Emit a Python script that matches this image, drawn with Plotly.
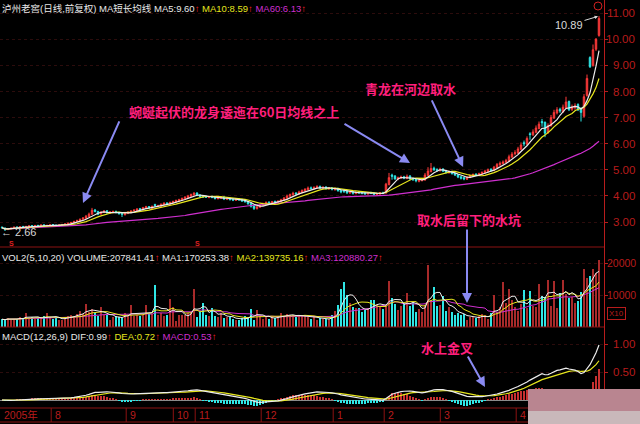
import plotly.graph_objects as go
import pandas as pd

# ---------------- data ----------------
opens = [
    2.80, 2.77, 2.71, 2.74, 2.77, 2.81, 2.79, 2.83, 2.80, 2.82,
    2.86, 2.83, 2.87, 2.85, 2.89, 2.85, 2.86, 2.90, 2.88, 2.85,
    2.87, 2.91, 2.90, 2.96, 2.97, 3.03, 3.04, 3.11, 3.14, 3.21,
    3.30, 3.46, 3.40, 3.31, 3.37, 3.43, 3.34, 3.37, 3.41, 3.37,
    3.33, 3.28, 3.33, 3.37, 3.43, 3.44, 3.51, 3.47, 3.54, 3.59,
    3.53, 3.67, 3.61, 3.61, 3.67, 3.73, 3.69, 3.74, 3.77, 3.81,
    3.84, 3.89, 3.94, 3.99, 4.04, 4.11, 4.03, 3.99, 3.97, 3.94,
    3.98, 3.95, 3.89, 3.91, 3.96, 3.87, 3.91, 3.87, 3.83, 3.89,
    3.86, 3.81, 3.79, 3.71, 3.62, 3.51, 3.57, 3.64, 3.69, 3.76,
    3.71, 3.79, 3.75, 3.79, 3.84, 3.91, 3.99, 4.04, 4.11, 4.07,
    4.14, 4.19, 4.24, 4.31, 4.27, 4.31, 4.36, 4.29, 4.34, 4.27,
    4.31, 4.24, 4.29, 4.21, 4.20, 4.19, 4.11, 4.16, 4.09, 4.15,
    4.13, 4.11, 4.07, 4.13, 4.11, 4.05, 4.07, 4.13, 4.11, 4.44,
    4.80, 4.76, 4.64, 4.69, 4.73, 4.67, 4.76, 4.66, 4.63, 4.56,
    4.59, 4.61, 4.79, 4.93, 5.06, 5.01, 4.97, 5.03, 4.96, 4.89,
    4.93, 4.86, 4.81, 4.73, 4.70, 4.64, 4.71, 4.77, 4.83, 4.79,
    4.84, 4.89, 4.94, 5.02, 4.97, 5.09, 5.19, 5.24, 5.29, 5.34,
    5.49, 5.62, 5.64, 5.79, 6.04, 5.98, 6.38, 6.34, 6.44, 6.58,
    6.85, 6.82, 6.42, 6.69, 6.98, 7.18, 7.32, 7.22, 7.38, 7.62,
    7.32, 7.38, 7.50, 7.35, 7.05, 7.85, 9.30, 9.00, 9.62, 10.15,
]
closes = [
    2.78, 2.70, 2.74, 2.76, 2.80, 2.78, 2.82, 2.80, 2.83, 2.85,
    2.84, 2.86, 2.85, 2.88, 2.86, 2.87, 2.89, 2.88, 2.86, 2.88,
    2.90, 2.92, 2.95, 2.98, 3.02, 3.05, 3.10, 3.15, 3.22, 3.30,
    3.45, 3.40, 3.30, 3.38, 3.42, 3.35, 3.38, 3.40, 3.36, 3.32,
    3.30, 3.34, 3.38, 3.42, 3.45, 3.50, 3.48, 3.55, 3.58, 3.54,
    3.60, 3.63, 3.62, 3.68, 3.72, 3.70, 3.75, 3.78, 3.82, 3.85,
    3.90, 3.95, 4.00, 4.05, 4.10, 4.02, 3.98, 3.96, 3.95, 3.97,
    3.94, 3.90, 3.92, 3.95, 3.88, 3.90, 3.86, 3.84, 3.88, 3.85,
    3.80, 3.78, 3.70, 3.60, 3.52, 3.58, 3.65, 3.70, 3.75, 3.72,
    3.78, 3.76, 3.80, 3.85, 3.92, 4.00, 4.05, 4.10, 4.08, 4.15,
    4.20, 4.25, 4.30, 4.28, 4.32, 4.35, 4.30, 4.33, 4.28, 4.30,
    4.25, 4.28, 4.20, 4.15, 4.18, 4.12, 4.15, 4.10, 4.14, 4.12,
    4.10, 4.08, 4.12, 4.10, 4.06, 4.08, 4.12, 4.10, 4.45, 4.70,
    4.75, 4.65, 4.70, 4.72, 4.68, 4.75, 4.65, 4.62, 4.58, 4.60,
    4.62, 4.80, 4.95, 5.05, 5.00, 4.98, 5.02, 4.95, 4.90, 4.92,
    4.85, 4.80, 4.72, 4.68, 4.65, 4.72, 4.78, 4.82, 4.80, 4.85,
    4.90, 4.95, 5.00, 4.98, 5.10, 5.20, 5.25, 5.30, 5.35, 5.50,
    5.60, 5.65, 5.80, 5.95, 6.00, 6.20, 6.35, 6.45, 6.60, 6.75,
    6.80, 6.40, 6.70, 7.00, 7.20, 7.30, 7.25, 7.40, 7.60, 7.30,
    7.40, 7.45, 7.30, 7.20, 7.80, 8.50, 8.95, 9.60, 10.00, 10.80,
]
highs = [
    2.83, 2.79, 2.76, 2.79, 2.82, 2.83, 2.84, 2.85, 2.85, 2.88,
    2.88, 2.89, 2.89, 2.91, 2.91, 2.89, 2.92, 2.92, 2.90, 2.91,
    2.93, 2.95, 2.98, 3.01, 3.05, 3.09, 3.14, 3.19, 3.27, 3.36,
    3.54, 3.50, 3.43, 3.41, 3.46, 3.45, 3.42, 3.44, 3.43, 3.39,
    3.36, 3.37, 3.41, 3.45, 3.49, 3.53, 3.54, 3.58, 3.62, 3.61,
    3.63, 3.70, 3.66, 3.71, 3.76, 3.75, 3.78, 3.82, 3.86, 3.89,
    3.94, 3.99, 4.04, 4.09, 4.15, 4.14, 4.06, 4.02, 4.00, 4.01,
    4.01, 3.98, 3.95, 3.98, 3.98, 3.93, 3.94, 3.90, 3.91, 3.91,
    3.89, 3.84, 3.81, 3.74, 3.64, 3.62, 3.68, 3.74, 3.79, 3.79,
    3.81, 3.82, 3.83, 3.89, 3.96, 4.05, 4.09, 4.16, 4.14, 4.20,
    4.25, 4.30, 4.36, 4.36, 4.37, 4.41, 4.40, 4.37, 4.37, 4.34,
    4.34, 4.32, 4.31, 4.24, 4.22, 4.22, 4.18, 4.19, 4.17, 4.18,
    4.16, 4.14, 4.15, 4.16, 4.14, 4.11, 4.15, 4.16, 4.50, 4.88,
    4.85, 4.80, 4.74, 4.78, 4.77, 4.82, 4.80, 4.70, 4.67, 4.64,
    4.66, 4.88, 5.10, 5.26, 5.12, 5.06, 5.08, 5.06, 4.99, 4.97,
    4.96, 4.89, 4.84, 4.76, 4.73, 4.76, 4.82, 4.86, 4.87, 4.89,
    4.94, 5.00, 5.05, 5.06, 5.15, 5.26, 5.32, 5.36, 5.42, 5.58,
    5.68, 5.75, 5.88, 6.05, 6.12, 6.28, 6.44, 6.55, 6.70, 6.85,
    6.95, 6.85, 6.78, 7.10, 7.30, 7.40, 7.38, 7.50, 7.80, 7.65,
    7.50, 7.55, 7.55, 7.40, 7.90, 8.65, 9.35, 9.80, 10.05, 10.89,
]
lows = [
    2.75, 2.66, 2.69, 2.72, 2.75, 2.76, 2.77, 2.78, 2.78, 2.80,
    2.82, 2.81, 2.83, 2.83, 2.84, 2.83, 2.84, 2.86, 2.84, 2.83,
    2.85, 2.88, 2.88, 2.93, 2.95, 3.00, 3.02, 3.08, 3.12, 3.18,
    3.27, 3.37, 3.26, 3.28, 3.34, 3.32, 3.31, 3.34, 3.33, 3.28,
    3.19, 3.25, 3.30, 3.34, 3.40, 3.41, 3.45, 3.44, 3.51, 3.51,
    3.50, 3.58, 3.58, 3.58, 3.64, 3.67, 3.66, 3.71, 3.74, 3.78,
    3.81, 3.86, 3.91, 3.96, 4.01, 3.99, 3.95, 3.93, 3.92, 3.91,
    3.91, 3.86, 3.87, 3.89, 3.84, 3.84, 3.82, 3.80, 3.81, 3.82,
    3.77, 3.74, 3.66, 3.55, 3.46, 3.48, 3.54, 3.61, 3.66, 3.68,
    3.68, 3.73, 3.72, 3.76, 3.81, 3.88, 3.96, 4.01, 4.04, 4.04,
    4.10, 4.16, 4.21, 4.25, 4.24, 4.28, 4.27, 4.26, 4.24, 4.23,
    4.21, 4.20, 4.16, 4.10, 4.11, 4.07, 4.08, 4.05, 4.06, 4.08,
    4.06, 4.04, 4.05, 4.07, 4.02, 4.02, 4.04, 4.07, 4.09, 4.40,
    4.62, 4.62, 4.60, 4.65, 4.64, 4.64, 4.62, 4.58, 4.52, 4.52,
    4.55, 4.58, 4.75, 4.90, 4.96, 4.93, 4.93, 4.91, 4.86, 4.85,
    4.82, 4.76, 4.68, 4.63, 4.60, 4.61, 4.68, 4.74, 4.76, 4.76,
    4.81, 4.86, 4.91, 4.94, 4.95, 5.06, 5.15, 5.20, 5.25, 5.30,
    5.45, 5.55, 5.60, 5.75, 5.90, 5.95, 6.15, 6.30, 6.40, 6.55,
    6.65, 6.25, 6.38, 6.65, 6.95, 7.12, 7.18, 7.18, 7.35, 7.25,
    7.25, 7.30, 7.25, 6.85, 7.00, 7.80, 8.90, 8.95, 9.55, 10.10,
]
volumes = [  # shown in units of x10 hands
    2400, 2200, 2800, 2300, 2600, 2500, 3000, 2700, 4400, 2900,
    3100, 2600, 2800, 2800, 3300, 4400, 3000, 2600, 2900, 2200,
    2300, 3100, 3300, 3800, 3500, 4000, 4900, 4200, 7200, 4600,
    5600, 4300, 3500, 6300, 3600, 3800, 2200, 3000, 3400, 3200,
    2900, 4300, 3500, 6800, 3300, 3900, 3400, 3700, 7000, 4100,
    4200, 13000, 3600, 4300, 3500, 3800, 8700, 6300, 2000, 3600,
    3800, 3700, 4300, 4800, 11800, 3200, 4600, 7500, 3900, 3400,
    6000, 3500, 3200, 4300, 2900, 3200, 3000, 2600, 2100, 2200,
    2800, 3300, 3100, 5500, 2200, 5200, 3400, 2500, 3200, 2500,
    3000, 2800, 3400, 4300, 3300, 4000, 3600, 3800, 3200, 3500,
    3600, 3800, 3200, 2600, 3400, 2200, 2800, 2500, 2600, 2400,
    3800, 5000, 7000, 11800, 14000, 10000, 7500, 6300, 5800, 5800,
    4800, 5200, 6000, 8400, 8400, 7000, 6300, 5500, 6800, 14500,
    9000, 7200, 5300, 6500, 7400, 10700, 6500, 7400, 4800, 5600,
    4800, 7000, 19500, 8500, 12500, 6500, 7000, 9700, 5000, 6300,
    4800, 3800, 4300, 3600, 4000, 2200, 3200, 3200, 2800, 3300,
    4000, 3600, 2500, 4500, 10000, 4800, 6200, 14000, 7500, 11800,
    8500, 6300, 5000, 7200, 11700, 5800, 11200, 6500, 6200, 13500,
    9700, 9300, 14600, 6500, 14300, 5800, 10600, 14600, 10300, 9000,
    9300, 7400, 8000, 11000, 18000, 15300, 15800, 18000, 17000, 20784,
]
# month boundaries (bar index) and labels of the date strip
month_starts = [0, 17, 42, 57.7, 65, 87, 111, 128, 146.7, 172]
month_labels = ["2005年", "8", "9", "10", "11", "12", "1", "2", "3", "4"]
price_ticks = [3, 4, 5, 6, 7, 8, 9, 10, 11]
vol_ticks = [10000, 20000]
macd_ticks = [0.5, 1.0]
s_marks = [3, 65]

header_price = ("泸州老窖(日线,前复权) MA短长均线 MA5:9.60", "MA10:8.59", "MA60:6.13")
header_vol = ("VOL2(5,10,20) VOLUME:207841.41", "MA1:170253.38", "MA2:139735.16", "MA3:120880.27")
header_macd = ("MACD(12,26,9) DIF:0.99", "DEA:0.72", "MACD:0.53")

# ---------------- derived indicators ----------------
x = list(range(len(closes)))
c = pd.Series(closes)
ma5 = c.rolling(5, min_periods=1).mean()
ma10 = c.rolling(10, min_periods=1).mean()
ma60 = c.rolling(60, min_periods=1).mean()
v = pd.Series(volumes, dtype=float)
vma5 = v.rolling(5, min_periods=1).mean()
vma10 = v.rolling(10, min_periods=1).mean()
vma20 = v.rolling(20, min_periods=1).mean()
ema12 = c.ewm(span=12, adjust=False).mean()
ema26 = c.ewm(span=26, adjust=False).mean()
dif = ema12 - ema26
dea = dif.ewm(span=9, adjust=False).mean()
macd = 2 * (dif - dea)

RED = "#ff3a3a"
RED_FILL = "#c22c2c"
CYAN = "#2fe6e6"
WHITE = "#ececec"
YELLOW = "#e6e61e"
MAG = "#cf2fcf"
AXRED = "#b81c1c"

up = [cl >= op for op, cl in zip(opens, closes)]
vol_colors = ["#a82a2a" if u else CYAN for u in up]
macd_colors = ["#c83030" if m >= 0 else CYAN for m in macd]

fig = go.Figure()
fig.add_trace(go.Candlestick(
    x=x, open=opens, high=highs, low=lows, close=closes, yaxis="y",
    increasing=dict(line=dict(color=RED, width=1), fillcolor=RED_FILL),
    decreasing=dict(line=dict(color=CYAN, width=1), fillcolor=CYAN),
    whiskerwidth=0, hoverinfo="skip", showlegend=False))
for ser, col in ((ma60, MAG), (ma10, YELLOW), (ma5, WHITE)):
    fig.add_trace(go.Scatter(x=x, y=ser, mode="lines", yaxis="y",
                             line=dict(color=col, width=1.2), hoverinfo="skip", showlegend=False))

fig.add_trace(go.Bar(x=x, y=volumes, yaxis="y2", width=0.72,
                     marker=dict(color=vol_colors, line=dict(width=0)),
                     hoverinfo="skip", showlegend=False))
for ser, col in ((vma20, MAG), (vma10, YELLOW), (vma5, WHITE)):
    fig.add_trace(go.Scatter(x=x, y=ser, mode="lines", yaxis="y2",
                             line=dict(color=col, width=1), hoverinfo="skip", showlegend=False))

fig.add_trace(go.Bar(x=x, y=macd, yaxis="y3", width=0.3,
                     marker=dict(color=macd_colors, line=dict(width=0)),
                     hoverinfo="skip", showlegend=False))
fig.add_trace(go.Scatter(x=x, y=dea, mode="lines", yaxis="y3",
                         line=dict(color=YELLOW, width=1.2), hoverinfo="skip", showlegend=False))
fig.add_trace(go.Scatter(x=x, y=dif, mode="lines", yaxis="y3",
                         line=dict(color=WHITE, width=1.2), hoverinfo="skip", showlegend=False))

H = 408.0  # plot-area height in px
W = 604.0  # plot-area width in px


def py(px):
    return 1 - px / H


axis_common = dict(side="right", anchor="x", showline=True, linecolor=AXRED, linewidth=1,
                   ticks="outside", ticklen=3, tickcolor=AXRED, showticklabels=False,
                   showgrid=True, gridcolor="#2c0c0c", griddash="dot", gridwidth=1,
                   zeroline=False, fixedrange=True)

fig.update_layout(
    width=640, height=424,
    margin=dict(l=0, r=36, t=0, b=16),
    paper_bgcolor="#000000", plot_bgcolor="#000000",
    bargap=0, showlegend=False,
    xaxis=dict(range=[-0.667, 200.667], showticklabels=False, showgrid=False, zeroline=False,
               showline=False, ticks="", rangeslider=dict(visible=False), fixedrange=True,
               anchor="y3"),
    yaxis=dict(domain=[py(247), 1], range=[2.042, 11.506], tickvals=price_ticks, **axis_common),
    yaxis2=dict(domain=[py(327), py(247)], range=[0, 25000], tickvals=vol_ticks, **axis_common),
    yaxis3=dict(domain=[0, py(327)], range=[-0.143, 1.304], tickvals=macd_ticks,
                **{**axis_common, "zeroline": True, "zerolinecolor": "#8a8a8a", "zerolinewidth": 1}),
)

# right-hand tick labels (right aligned just inside the page edge)
tfont = dict(family="Liberation Sans, Arial", size=11.5, color=AXRED)
for t in price_ticks:
    fig.add_annotation(xref="paper", yref="y", x=637 / W, y=t, xanchor="right", yanchor="middle",
                       text=f"{t:.2f}", showarrow=False, font=tfont)
for t in vol_ticks:
    fig.add_annotation(xref="paper", yref="y2", x=638 / W, y=t, xanchor="right", yanchor="middle",
                       text=str(t), showarrow=False,
                       font=dict(family="Liberation Sans, Arial", size=10.5, color=AXRED))
for t in macd_ticks:
    fig.add_annotation(xref="paper", yref="y3", x=637 / W, y=t, xanchor="right", yanchor="middle",
                       text=f"{t:.2f}", showarrow=False, font=tfont)

ARROW = "<span style='color:#ff2020'>↑</span>"
hfont = dict(family="Liberation Sans, Noto Sans CJK SC", size=9.5, color=WHITE)


def header(parts, colors, ypx):
    txt = " ".join(f"<span style='color:{col}'>{p}</span>{ARROW}" for p, col in zip(parts, colors))
    fig.add_annotation(xref="paper", yref="paper", x=0.0, y=py(ypx), xanchor="left", yanchor="middle",
                       text=txt, showarrow=False, font=hfont)


header(header_price, ["#e8e8e8", YELLOW, MAG], 8)
header(header_vol, ["#e8e8e8", "#e8e8e8", YELLOW, MAG], 257)
header(header_macd, ["#e8e8e8", YELLOW, MAG], 336)

# panel separators and date strip
for ypx in (247, 327, 408, 422):
    fig.add_shape(type="line", xref="paper", yref="paper", x0=0, x1=1, y0=py(ypx), y1=py(ypx),
                  line=dict(color="#8c1212", width=1))
for pos, lab in zip(month_starts, month_labels):
    if pos > 0:
        fig.add_shape(type="line", xref="x", yref="paper", x0=pos - 0.6, x1=pos - 0.6,
                      y0=py(408), y1=py(422), line=dict(color="#8c1212", width=1))
    fig.add_annotation(xref="x", yref="paper", x=pos, y=py(415), xanchor="left", yanchor="middle",
                       text=lab, showarrow=False,
                       font=dict(family="Liberation Sans, Noto Sans CJK SC", size=10.5, color=AXRED))

# S markers
for s in s_marks:
    fig.add_annotation(xref="x", yref="paper", x=s, y=py(243.5), text="<b>S</b>", showarrow=False,
                       font=dict(family="Liberation Sans", size=7, color="#e02020"), borderpad=0)

# extreme value labels
fig.add_annotation(xref="x", yref="y", x=199, y=highs[-1], text="10.89", showarrow=True,
                   ax=-30, ay=9, arrowhead=2, arrowsize=0.7, arrowwidth=1, arrowcolor="#d8d8d8",
                   standoff=1, font=dict(family="Liberation Sans", size=11, color="#d8d8d8"))
fig.add_annotation(xref="paper", yref="paper", x=0.0, y=py(231.5), xanchor="left", yanchor="middle",
                   text="← 2.66", showarrow=False, borderpad=0,
                   font=dict(family="Liberation Sans", size=11, color="#d8d8d8"))

# X10 box
fig.add_annotation(xref="paper", yref="paper", x=607 / W, y=py(320), xanchor="left", text="X10",
                   showarrow=False, font=dict(family="Liberation Sans", size=8, color=AXRED),
                   bordercolor=AXRED, borderwidth=1, borderpad=1)

# small icon top right
fig.add_shape(type="circle", xref="paper", yref="paper", x0=594 / W, x1=602 / W,
              y0=py(10), y1=py(2), line=dict(color="#d02020", width=1))

# commentary
PINK = "#ff1f7c"
cfont = dict(family="Noto Sans CJK SC", size=13, color=PINK)
fig.add_annotation(xref="x", yref="y", x=77.3, y=7.25, text="<b>蜿蜒起伏的龙身逶迤在60日均线之上</b>",
                   showarrow=False, font=cfont)
fig.add_annotation(xref="x", yref="y", x=136, y=8.1, text="<b>青龙在河边取水</b>", showarrow=False, font=cfont)
fig.add_annotation(xref="x", yref="y", x=155.7, y=3.11, text="<b>取水后留下的水坑</b>", showarrow=False, font=cfont)
fig.add_annotation(xref="x", yref="y3", x=148.3, y=0.946, text="<b>水上金叉</b>", showarrow=False, font=cfont)

ARR = "#8a8af2"
for (ax_i, ax_y, yref, dx, dy) in [(27, 3.73, "y", 37, -83), (136, 5.26, "y", -67, -40),
                                   (153.7, 5.11, "y", -32, -68), (155, 7500, "y2", 0, -75),
                                   (161, 0.232, "y3", -18, -32)]:
    fig.add_annotation(xref="x", yref=yref, x=ax_i, y=ax_y, text="", showarrow=True, ax=dx, ay=dy,
                       arrowhead=2, arrowsize=1, arrowwidth=2, arrowcolor=ARR, standoff=0)

# blurred watermark at the bottom right
fig.add_shape(type="rect", xref="paper", yref="paper", x0=528 / W, x1=640 / W, y0=py(411), y1=py(389),
              fillcolor="#b98590", line=dict(width=0), layer="above")
fig.add_shape(type="rect", xref="paper", yref="paper", x0=528 / W, x1=640 / W, y0=py(424), y1=py(411),
              fillcolor="#c9b8ba", line=dict(width=0), layer="above")

fig.write_html("out.html", config={"displayModeBar": False},
               post_script="document.body.style.margin='0';document.body.style.background='#000';"
                           "document.documentElement.style.overflow='hidden';")
